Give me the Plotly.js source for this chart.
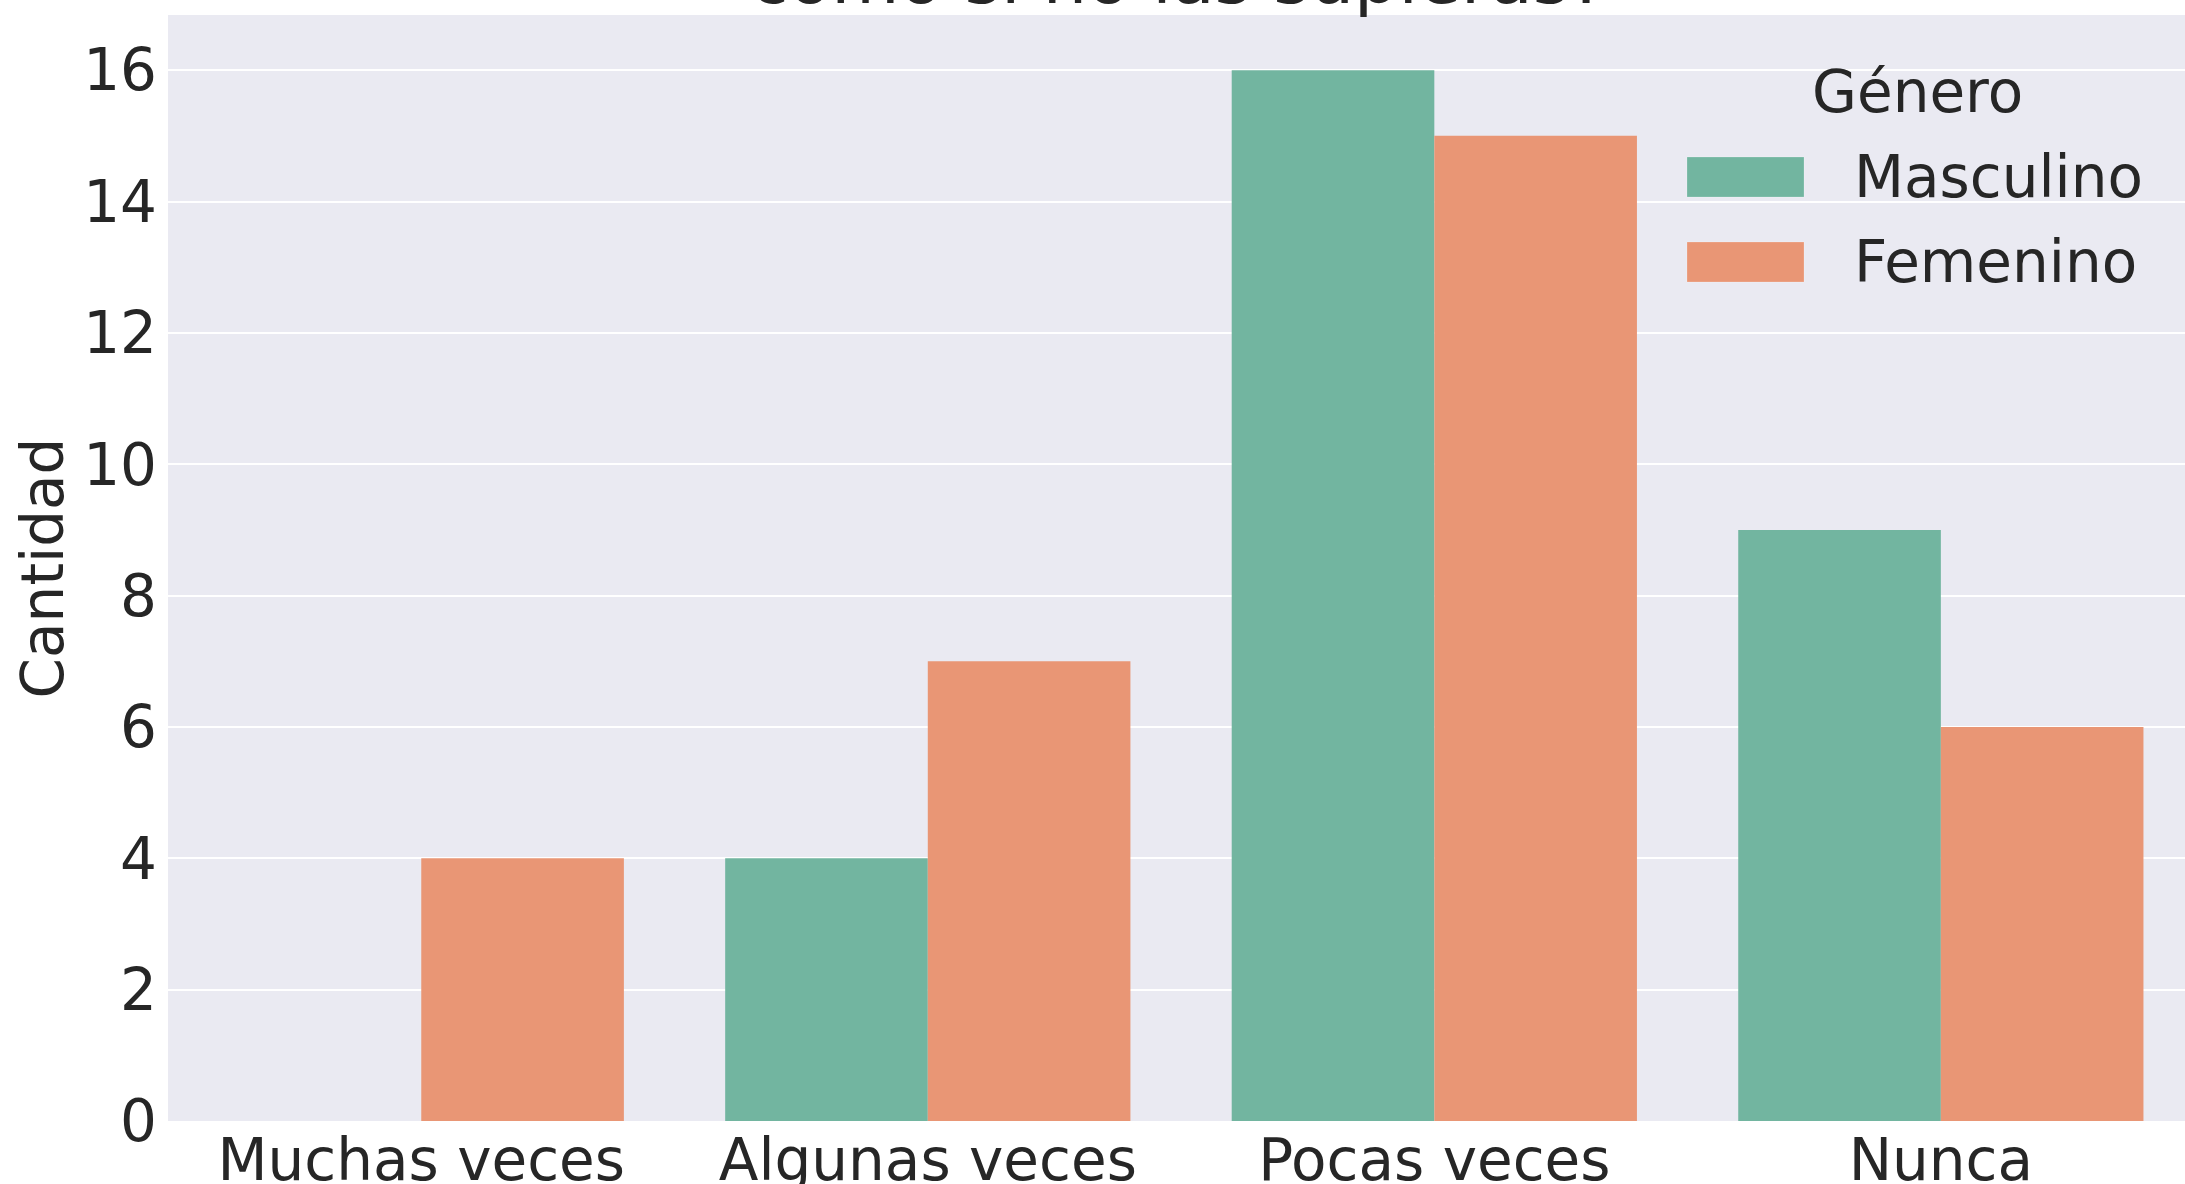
<!DOCTYPE html>
<html>
<head>
<meta charset="utf-8">
<script src="https://cdn.plot.ly/plotly-3.0.1.min.js"></script>
<style>html,body{margin:0;padding:0;background:#fff;}#chart{width:2185px;height:1184px;}</style>
</head>
<body>
<div id="chart"></div>
<script>
const categories = ["Muchas veces", "Algunas veces", "Pocas veces", "Nunca"];
const masculino = [0, 4, 16, 9];
const femenino = [4, 7, 15, 6];
const seriesNames = ["Masculino", "Femenino"];
const legendTitle = "Género";
const yTitle = "Cantidad";
const titleText = "como si no las supieras?";
const yTicks = [0, 2, 4, 6, 8, 10, 12, 14, 16];

const colors = ["#72b5a0", "#e99675"];
const FONT = "DejaVu Sans, sans-serif";
const TXT = "#262626";
const FS = 58;

const W = 2185, H = 1184;
const M = {l: 168, r: 0, t: 15, b: 63};
const plotH = H - M.t - M.b;
const plotW = W - M.l - M.r;
// pixel -> paper helpers
const px = x => (x - M.l) / plotW;
const py = y => 1 - (y - M.t) / plotH;

const traces = [masculino, femenino].map((vals, i) => ({
  type: "bar",
  name: seriesNames[i],
  x: categories,
  y: vals,
  marker: {color: colors[i], line: {width: 0}},
  showlegend: false,
  hoverinfo: "x+y+name"
}));

const shapes = [];
const annotations = [];

// legend (drawn manually to match large swatches)
annotations.push({
  xref: "paper", yref: "paper", x: px(1917), y: py(92),
  xanchor: "center", yanchor: "middle", showarrow: false,
  text: legendTitle, font: {family: FONT, size: FS, color: TXT}
});
const rowY = [177, 262];
seriesNames.forEach((n, i) => {
  shapes.push({
    type: "rect", xref: "paper", yref: "paper",
    x0: px(1687), x1: px(1804), y0: py(rowY[i] - 20), y1: py(rowY[i] + 20),
    fillcolor: colors[i], line: {color: "rgba(255,255,255,0.2)", width: 1}
  });
  annotations.push({
    xref: "paper", yref: "paper", x: px(1852), y: py(rowY[i]),
    xanchor: "left", yanchor: "middle", showarrow: false,
    text: n, font: {family: FONT, size: FS, color: TXT}
  });
});

// title (only its last line is visible, clipped at the top edge)
annotations.push({
  xref: "paper", yref: "paper", x: px(1178), y: py(22),
  xanchor: "center", yanchor: "bottom", showarrow: false,
  text: titleText, font: {family: FONT, size: 70, color: TXT}
});

const layout = {
  width: W, height: H,
  margin: M,
  paper_bgcolor: "#ffffff",
  plot_bgcolor: "#eaeaf2",
  barmode: "group",
  bargap: 0.2,
  bargroupgap: 0,
  font: {family: FONT, size: FS, color: TXT},
  xaxis: {
    type: "category",
    range: [-0.5, 3.482],
    showgrid: false, zeroline: false, showline: false,
    ticks: "", ticklabelstandoff: 0,
    tickfont: {family: FONT, size: FS, color: TXT}
  },
  yaxis: {
    range: [0, 16.84],
    tickvals: yTicks,
    ticktext: yTicks.map(String),
    showgrid: true, gridcolor: "#ffffff", gridwidth: 2,
    zeroline: false, showline: false,
    ticks: "", ticklabelstandoff: 10,
    tickfont: {family: FONT, size: FS, color: TXT},
    title: {text: yTitle, font: {family: FONT, size: FS, color: TXT}, standoff: 0}
  },
  shapes: shapes,
  annotations: annotations
};

Plotly.newPlot("chart", traces, layout, {displayModeBar: false, staticPlot: true});
</script>
</body>
</html>
